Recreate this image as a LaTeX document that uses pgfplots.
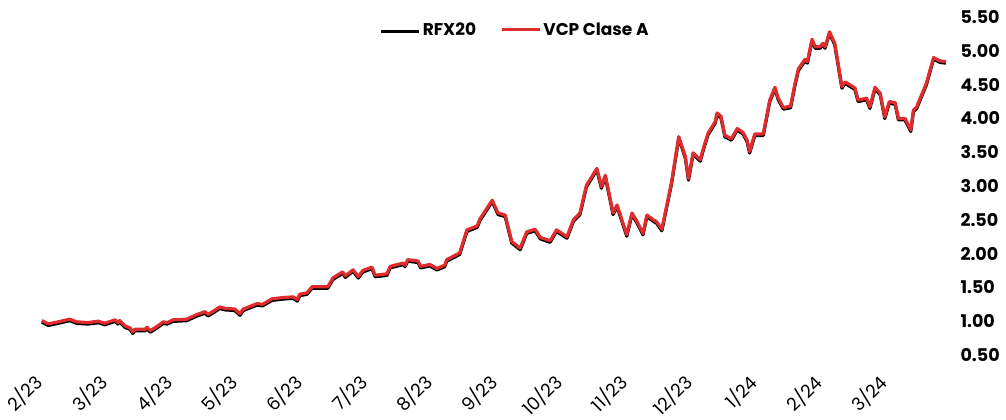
\documentclass[border=0pt]{standalone}
\usepackage{fontspec}
\setmainfont{Poppins}
\usepackage{pgfplots}
\usepackage{pgfplotstable}
\pgfplotsset{compat=1.18}
\definecolor{vcpred}{RGB}{224,44,44}
\pgfplotstableread{
x v
-0.05 1.01
0.05 0.96
0.20 0.99
0.38 1.03
0.49 0.99
0.66 0.98
0.82 1.00
0.92 0.97
1.08 1.02
1.12 0.98
1.15 1.01
1.23 0.93
1.31 0.90
1.35 0.84
1.38 0.88
1.54 0.88
1.57 0.91
1.62 0.86
1.72 0.92
1.82 0.99
1.88 0.98
1.97 1.02
2.18 1.03
2.34 1.10
2.46 1.14
2.51 1.10
2.69 1.21
2.77 1.19
2.92 1.18
3.00 1.11
3.05 1.18
3.26 1.26
3.35 1.25
3.49 1.33
3.66 1.35
3.82 1.36
3.88 1.32
3.92 1.40
4.03 1.42
4.11 1.51
4.35 1.51
4.43 1.64
4.58 1.73
4.62 1.67
4.74 1.76
4.82 1.66
4.89 1.75
5.03 1.80
5.08 1.68
5.26 1.70
5.31 1.81
5.51 1.86
5.54 1.83
5.58 1.91
5.74 1.89
5.78 1.81
5.92 1.84
6.03 1.78
6.15 1.83
6.18 1.91
6.38 2.01
6.49 2.35
6.65 2.41
6.69 2.51
6.88 2.79
6.97 2.60
7.08 2.57
7.18 2.18
7.31 2.08
7.41 2.32
7.54 2.36
7.62 2.24
7.77 2.19
7.87 2.35
8.03 2.25
8.13 2.50
8.23 2.60
8.33 3.01
8.49 3.26
8.56 2.99
8.62 3.16
8.74 2.60
8.80 2.72
8.95 2.28
9.03 2.60
9.10 2.49
9.20 2.30
9.26 2.57
9.36 2.50
9.41 2.47
9.49 2.36
9.64 3.06
9.75 3.73
9.85 3.44
9.90 3.11
9.97 3.49
10.08 3.39
10.13 3.56
10.20 3.78
10.31 3.95
10.34 4.08
10.40 4.03
10.46 3.75
10.56 3.70
10.65 3.85
10.74 3.79
10.80 3.68
10.84 3.51
10.92 3.77
11.05 3.77
11.15 4.27
11.23 4.46
11.28 4.30
11.36 4.16
11.47 4.18
11.54 4.52
11.59 4.73
11.69 4.87
11.73 4.84
11.80 5.17
11.85 5.06
11.92 5.06
11.97 5.11
12.00 5.06
12.07 5.28
12.15 5.11
12.26 4.47
12.31 4.54
12.46 4.45
12.51 4.27
12.64 4.30
12.69 4.17
12.77 4.46
12.85 4.37
12.92 4.02
12.99 4.25
13.08 4.23
13.13 4.00
13.23 4.00
13.32 3.83
13.36 4.12
13.41 4.17
13.56 4.52
13.67 4.90
13.77 4.85
13.86 4.84
}\datatable
\begin{document}
\begin{tikzpicture}[x=1pt,y=1pt]
\useasboundingbox (0,0) rectangle (1006,420);
\begin{axis}[
  at={(38.5pt,65pt)}, anchor=south west,
  scale only axis, width=916.5pt, height=338pt,
  xmin=-0.1, xmax=14, ymin=0.5, ymax=5.5,
  axis line style={draw=none},
  major tick length=0pt,
  xtick={0,1,...,13},
  xticklabels={2/23,3/23,4/23,5/23,6/23,7/23,8/23,9/23,10/23,11/23,12/23,1/24,2/24,3/24},
  ytick={0.5,1,...,5.5},
  yticklabel pos=right,
  /pgf/number format/assume math mode=true,
  yticklabel={\pgfmathprintnumber[fixed,fixed zerofill,precision=2]{\tick}},
  yticklabel style={font=\fontsize{17.5}{19}\selectfont\bfseries, anchor=west, xshift=2pt},
  xticklabel style={font=\fontsize{18}{20}\selectfont, rotate=45, anchor=north east, yshift=1pt, xshift=-18pt},
  legend columns=2,
  legend style={draw=none, fill=none, at={(0.52,0.962)}, anchor=center,
    font=\fontsize{17}{19}\selectfont\bfseries,
    /tikz/every even column/.append style={column sep=22pt}},
  legend image code/.code={\draw[#1] (0pt,0pt) -- (38pt,0pt);},
]
\addplot[black, line width=3.2pt, line join=round, yshift=-1.5pt] table[x=x,y=v]{\datatable};
\addlegendentry{RFX20}
\addplot[vcpred, line width=3.2pt, line join=round] table[x=x,y=v]{\datatable};
\addlegendentry{VCP Clase A}
\end{axis}
\end{tikzpicture}
\end{document}
